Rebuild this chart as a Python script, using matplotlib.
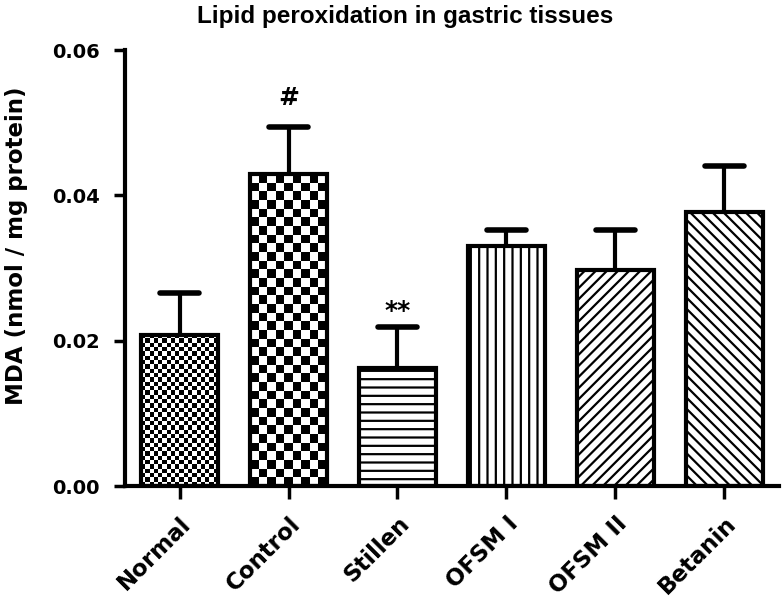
import matplotlib
matplotlib.use('Agg')
from matplotlib import pyplot as plt
import numpy as np

groups = ['Normal', 'Control', 'Stillen', 'OFSM I', 'OFSM II', 'Betanin']
mda = [0.0208, 0.0429, 0.0162, 0.0330, 0.0297, 0.0377]
sem = [0.0058, 0.0065, 0.0057, 0.0022, 0.0055, 0.0063]
marks = ['', '#', '**', '', '', '']
mark_gap = [0, 0.0030, 0.0012, 0, 0, 0]
# hatch per bar; 'check' bars get a checkerboard image (cell size in px)
fills = ['check', 'check', '--', '||', '///', '\\\\\\']
check_cell = [4.3, 8.6, 0, 0, 0, 0]

plt.rcParams['font.family'] = ['DejaVu Sans']
plt.rcParams['font.weight'] = 'bold'
plt.rcParams['hatch.linewidth'] = 1.6
plt.rcParams['hatch.color'] = 'black'

fig = plt.figure(figsize=(7.84, 6), dpi=100)
ax = fig.add_axes([125/784, 114/600, 654/784, 436/600])
x = np.arange(len(groups))
ax.set_xlim(-0.5, len(groups) - 0.5)
ax.set_ylim(0, 0.06)

bars = ax.bar(x, mda, width=0.7, facecolor='white', edgecolor='black',
              linewidth=3, zorder=2)
for b, f, cell in zip(bars, fills, check_cell):
    if f == 'check':
        b.set_facecolor('none')
        x0, x1 = b.get_x(), b.get_x() + b.get_width()
        h = b.get_height()
        p0 = ax.transData.transform((x0, 0))
        p1 = ax.transData.transform((x1, h))
        nx = max(1, int(round((p1[0] - p0[0]) / cell)))
        ny = max(1, int(round((p1[1] - p0[1]) / cell)))
        board = (np.add.outer(np.arange(ny), np.arange(nx)) % 2).astype(float)
        im = ax.imshow(board, cmap='gray', extent=(x0, x1, 0, h), origin='lower',
                       aspect='auto', interpolation='nearest', zorder=1)
        im.set_clip_path(b)
    else:
        b.set_hatch(f)

tops = np.array(mda) + np.array(sem)
ax.vlines(x, mda, tops, color='black', linewidth=3, zorder=1)
ax.hlines(tops, x - 0.18, x + 0.18, color='black', linewidth=4,
          capstyle='round', zorder=3)

for xi, t, m, g in zip(x, tops, marks, mark_gap):
    if m:
        ax.text(xi, t + g, m, ha='center', va='baseline', fontsize=18,
                fontweight='bold')

ax.set_xlim(-0.5, len(groups) - 0.5)
ax.set_ylim(0, 0.06)
ax.set_yticks([0, 0.02, 0.04, 0.06])
ax.set_yticklabels(['0.00', '0.02', '0.04', '0.06'], fontsize=14, fontweight='bold')
ax.set_xticks(x)
ax.set_xticklabels(groups, rotation=45, ha='right', rotation_mode='anchor',
                   fontsize=16.5, fontweight='bold')
ax.tick_params(axis='y', direction='out', length=8, width=2.5, pad=10)
ax.tick_params(axis='x', direction='out', length=9, width=2.5, pad=10)
for s in ['top', 'right']:
    ax.spines[s].set_visible(False)
for s in ['left', 'bottom']:
    ax.spines[s].set_linewidth(3)

fig.text(17/784, 1 - 246/600, 'MDA (nmol / mg protein)', rotation=90, ha='center',
         va='center', fontsize=16.5, fontweight='bold')
fig.text(405/784, 1 - 17/600, 'Lipid peroxidation in gastric tissues', ha='center',
         va='center', fontsize=17.5, fontweight='bold',
         family=['Liberation Sans', 'DejaVu Sans'])

fig.savefig('out.png', dpi=100)
